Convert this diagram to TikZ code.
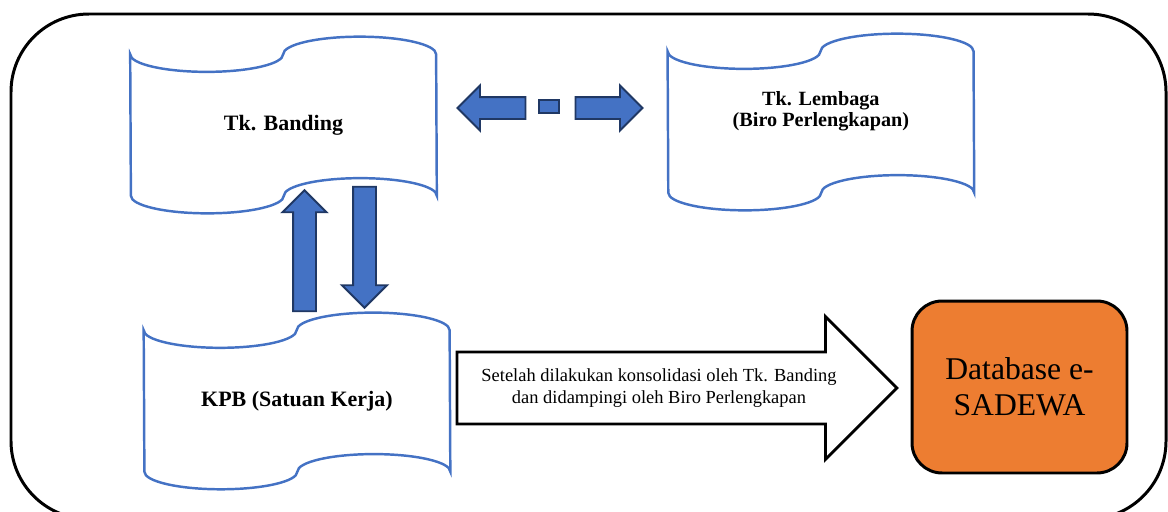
\documentclass[tikz,border=0pt]{standalone}
\usepackage{fontspec}
\setmainfont{Liberation Serif}
\usetikzlibrary{positioning,shapes.arrows}

\definecolor{tapeblue}{HTML}{4472C4}
\definecolor{arrowfill}{HTML}{4472C4}
\definecolor{arrowline}{HTML}{203864}
\definecolor{dborange}{HTML}{ED7D31}

\begin{document}
\begin{tikzpicture}[x=0.02cm,y=-0.02cm,node distance=10.75cm,
                    tapebox/.style={rectangle,inner sep=0pt,
                      minimum width=6.12cm,minimum height=3.52cm,align=center,
                      font=\fontsize{12.5}{13}\selectfont\bfseries},
                    tapeline/.style={draw=tapeblue,line width=1.4pt},
                    blockarr/.style={single arrow,draw=arrowline,fill=arrowfill,
                      line width=1.1pt,inner xsep=0pt,single arrow head indent=0pt}]
  \useasboundingbox (0,0) rectangle (1168,511);
  \clip (0,0) rectangle (1168,511);
%  outer frame
  \draw[line width=1.7pt,rounded corners=1.56cm] (11,14) rectangle (1166,519);

  \node[tapebox]       (banding) at (283.5,125)             {Tk. Banding};
  \node[tapebox,label={[font=\fontsize{11.5}{12.2}\selectfont\bfseries,align=center,yshift=0.22cm]center:Tk. Lembaga\\(Biro Perlengkapan)}]
                       (lembaga) [right of=banding,yshift=0.06cm] {};
  \node[tapebox]       (kpb) [below of=banding,node distance=5.52cm,xshift=0.27cm] {KPB (Satuan Kerja)};

  % wavy outlines of the tapes
  \foreach \n in {banding,lembaga,kpb}
    \draw[tapeline] ([yshift=-0.352cm]\n.north west)
        arc[start angle=180,end angle=360,x radius=1.53cm,y radius=0.352cm]
        arc[start angle=180,end angle=0,x radius=1.53cm,y radius=0.352cm]
        -- ([yshift=0.352cm]\n.south east)
        arc[start angle=0,end angle=180,x radius=1.53cm,y radius=0.352cm]
        arc[start angle=0,end angle=-180,x radius=1.53cm,y radius=0.352cm]
        -- cycle;

  \node[draw,fill=dborange,line width=1.7pt,rounded corners=0.6cm,
        minimum width=4.3cm,minimum height=3.44cm,align=center,
        font=\fontsize{18}{20.5}\selectfont]
                       (db) at (1019.5,387) {Database e-\\SADEWA};

  % arrows between the tapes
  \node[blockarr,rotate=90,inner ysep=0.21cm,single arrow head extend=0.21cm,
        minimum width=0.84cm,minimum height=2.42cm]
                       (up) at (304.5,256.5) {};
  \node[blockarr,rotate=-90,inner ysep=0.21cm,single arrow head extend=0.22cm,
        minimum width=0.86cm,minimum height=2.42cm]
                       (down) at (364.5,241.5) {};
  \node[blockarr,rotate=180,inner ysep=0.2cm,single arrow head extend=0.23cm,
        minimum width=0.86cm,minimum height=1.36cm]
                       (left) at (497,108) {};
  \node[draw=arrowline,fill=arrowfill,line width=1.1pt,inner sep=0pt,
        minimum width=0.4cm,minimum height=0.26cm]
                       (dash) at (549,106.5) {};
  \node[blockarr,inner ysep=0.2cm,single arrow head extend=0.23cm,
        minimum width=0.86cm,minimum height=1.34cm]
                       (right) at (603.5,108) {};

  \node[single arrow,draw,line width=1.6pt,single arrow head indent=0pt,
        single arrow head extend=0.71cm,
        inner ysep=8.4pt,inner xsep=0pt,minimum width=2.8cm,minimum height=8.8cm,
        align=center,font=\fontsize{10.5}{13}\selectfont]
                       (send) at (659,388) {Setelah dilakukan konsolidasi oleh Tk. Banding\\dan didampingi oleh Biro Perlengkapan};

\end{tikzpicture}
\end{document}
